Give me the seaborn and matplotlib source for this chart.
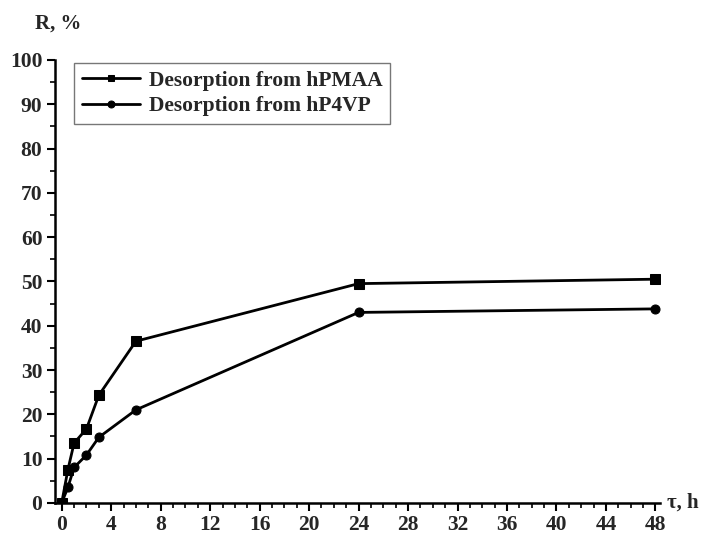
import matplotlib
matplotlib.use("Agg")
import matplotlib.pyplot as plt
import seaborn as sns
import pandas as pd
from matplotlib.ticker import MultipleLocator

time_h = [0, 0.5, 1, 2, 3, 6, 24, 48]
r_hpmaa = [0, 7.5, 13.5, 16.7, 24.3, 36.5, 49.5, 50.5]
r_hp4vp = [0, 3.5, 8.0, 10.8, 14.8, 21.0, 43.0, 43.8]
series_names = ["Desorption from hPMAA", "Desorption from hP4VP"]

df = pd.concat([
    pd.DataFrame({"t": time_h, "R": r_hpmaa, "series": series_names[0]}),
    pd.DataFrame({"t": time_h, "R": r_hp4vp, "series": series_names[1]}),
])

sns.set_theme(style="ticks")
plt.rcParams["font.family"] = ["Liberation Serif", "DejaVu Serif"]
plt.rcParams["font.weight"] = "bold"

fig = plt.figure(figsize=(7.04, 5.35), dpi=100)
ax = fig.add_axes([0.078, 0.06, 0.86, 0.828])

sns.lineplot(data=df, x="t", y="R", hue="series", style="series",
             palette=["black", "black"], markers=["s", "o"], dashes=False,
             markersize=6.5, linewidth=2, markeredgecolor="black", ax=ax)

ax.set_xlim(-0.55, 48.4)
ax.set_ylim(0, 100)
ax.xaxis.set_major_locator(MultipleLocator(4))
ax.xaxis.set_minor_locator(MultipleLocator(1))
ax.yaxis.set_major_locator(MultipleLocator(10))
ax.yaxis.set_minor_locator(MultipleLocator(5))
ax.tick_params(which="major", direction="out", length=6, width=1.5, labelsize=15.5,
               color="black", pad=3)
ax.tick_params(which="minor", direction="out", length=3.5, width=1.2, color="black")
for lab in ax.get_xticklabels() + ax.get_yticklabels():
    lab.set_fontweight("bold")

sns.despine(ax=ax)
for side in ["left", "bottom"]:
    ax.spines[side].set_linewidth(1.8)
    ax.spines[side].set_color("black")

ax.set_xlabel("")
ax.set_ylabel("")
fig.text(0.05, 0.955, "R, %", fontsize=15, fontweight="bold", ha="left", va="center")
fig.text(0.948, 0.06, "τ, h", fontsize=15, fontweight="bold", ha="left", va="center")

leg = ax.legend(loc="upper left", bbox_to_anchor=(0.032, 0.993), borderaxespad=0,
                fontsize=15.5, frameon=True, fancybox=False, handlelength=2.7,
                borderpad=0.35, labelspacing=0.25, handletextpad=0.4)
leg.get_frame().set_edgecolor("#555555")
leg.get_frame().set_linewidth(1.0)
for t in leg.get_texts():
    t.set_fontweight("bold")
for h in leg.legend_handles:
    h.set_markersize(5)

fig.savefig("out.png", dpi=100)
